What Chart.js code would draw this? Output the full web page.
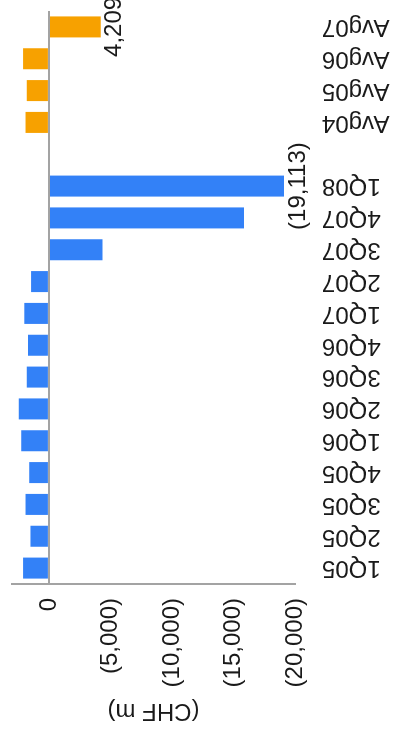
<!DOCTYPE html>
<html>
<head>
<meta charset="utf-8">
<script src="https://cdn.jsdelivr.net/npm/chart.js@4.4.1/dist/chart.umd.min.js"></script>
<style>
  html, body { margin: 0; padding: 0; background: #fff; overflow: hidden; }
  /* the chart is drawn lying on its side, then turned a quarter left */
  #wrap {
    position: absolute; left: 0; top: 0;
    width: 731px; height: 400px;
    transform-origin: 0 0;
    transform: translate(0, 731px) rotate(-90deg);
  }
</style>
</head>
<body>
<div id="wrap"><canvas id="chart" width="731" height="400"></canvas></div>
<script>
// categories ('' = empty slot between quarters and averages)
const categories = ['1Q05', '2Q05', '3Q05', '4Q05', '1Q06', '2Q06', '3Q06', '4Q06',
  '1Q07', '2Q07', '3Q07', '4Q07', '1Q08', '', 'Avg04', 'Avg05', 'Avg06', 'Avg07'];
// CHF m, losses negative
const values = [2100, 1500, 1900, 1600, 2250, 2450, 1800, 1700,
  2000, 1450, -4350, -15850, -19113, null, 1900, 1800, 2100, -4209];
const valueLabels = [null, null, null, null, null, null, null, null,
  null, null, null, null, '(19,113)', null, null, null, null, '4,209'];
const yTicks = [0, -5000, -10000, -15000, -20000];

const BLUE = '#3381f7';
const ORANGE = '#f7a100';
const AXIS = '#a3a3a3';
const FONT = "'Liberation Sans', Arial, sans-serif";

function fmt(v) {
  const s = Math.abs(v).toLocaleString('en-US');
  return v < 0 ? '(' + s + ')' : s;
}

const barLabels = {
  id: 'barLabels',
  afterDatasetsDraw(chart) {
    const ctx = chart.ctx;
    const meta = chart.getDatasetMeta(0);
    ctx.save();
    ctx.font = '24px ' + FONT;
    ctx.fillStyle = '#1a1a1a';
    ctx.textAlign = 'center';
    ctx.textBaseline = 'middle';
    meta.data.forEach((bar, i) => {
      if (!valueLabels[i]) return;
      ctx.fillText(valueLabels[i], bar.x, bar.y + 14);
    });
    ctx.restore();
  }
};

new Chart(document.getElementById('chart'), {
  type: 'bar',
  data: {
    labels: categories,
    datasets: [{
      data: values,
      backgroundColor: categories.map(c => c.startsWith('Avg') ? ORANGE : BLUE),
      barPercentage: 0.66,
      categoryPercentage: 1
    }]
  },
  options: {
    responsive: false,
    devicePixelRatio: 1,
    animation: false,
    layout: { padding: { top: 12, right: 11, left: 0, bottom: 0 } },
    plugins: { legend: { display: false }, tooltip: { enabled: false } },
    scales: {
      x: {
        position: 'bottom',
        grid: { display: false },
        border: { display: false },
        ticks: {
          autoSkip: false,
          minRotation: 90,
          maxRotation: 90,
          padding: 19,
          color: '#1a1a1a',
          font: { family: FONT, size: 24 }
        },
        afterFit: s => { s.height = 105; s.paddingLeft = 0; s.paddingRight = 0; }
      },
      y: {
        min: -20000,
        max: 3000,
        afterBuildTicks: s => { s.ticks = yTicks.map(v => ({ value: v })); },
        grid: {
          drawTicks: false,
          lineWidth: 2,
          color: c => (c.tick && c.tick.value === 0) ? AXIS : 'rgba(0,0,0,0)'
        },
        border: { display: true, color: AXIS, width: 2 },
        ticks: {
          padding: 14,
          color: '#1a1a1a',
          font: { family: FONT, size: 24 },
          callback: v => fmt(v)
        },
        title: {
          display: true,
          text: '(CHF m)',
          color: '#1a1a1a',
          font: { family: FONT, size: 24 },
          padding: { top: 6, bottom: 0 }
        },
        afterFit: s => { s.width = 147; s.paddingTop = 0; s.paddingBottom = 0; }
      }
    }
  },
  plugins: [barLabels]
});
</script>
</body>
</html>
